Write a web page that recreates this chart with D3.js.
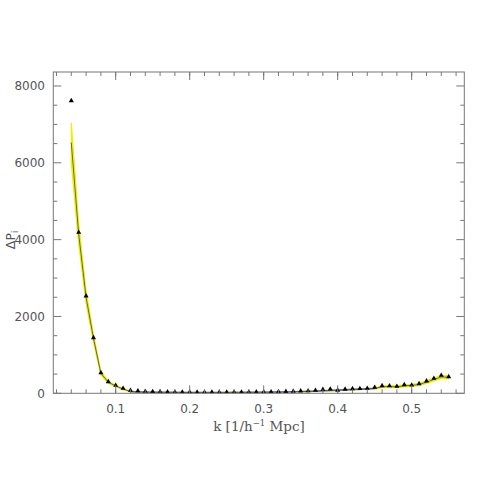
<!DOCTYPE html>
<html><head><meta charset="utf-8">
<script src="https://cdn.jsdelivr.net/npm/d3@7"></script>
<style>body{margin:0;background:#fff}svg{display:block}</style>
</head><body>
<svg id="c" width="491" height="491"></svg>
<script>
const kValues = [0.04,0.05,0.06,0.07,0.08,0.09,0.10,0.11,0.12,0.13,0.14,0.15,0.16,0.17,0.18,0.19,0.20,0.21,0.22,0.23,0.24,0.25,0.26,0.27,0.28,0.29,0.30,0.31,0.32,0.33,0.34,0.35,0.36,0.37,0.38,0.39,0.40,0.41,0.42,0.43,0.44,0.45,0.46,0.47,0.48,0.49,0.50,0.51,0.52,0.53,0.54,0.55];
const measured = [7617,4190,2533,1448,537,302,208,130,75,62,50,45,40,35,32,30,30,28,28,27,28,28,30,30,32,33,35,38,42,48,55,60,62,75,100,110,80,105,118,122,130,155,198,195,180,222,215,250,320,390,468,430];
const model = [6525,4150,2500,1430,520,290,190,110,45,35,30,27,25,24,23,22,22,22,22,22,22,22,23,24,25,26,28,30,32,35,40,45,50,58,66,74,82,90,100,108,115,125,170,175,170,195,205,230,290,360,425,420];
const bandHalf = [520,260,160,100,50,30,20,15,10,8,6,6,5,5,5,5,5,5,5,5,5,5,5,5,5,5,5,5,5,5,5,6,6,7,8,9,10,11,12,13,14,15,25,25,25,28,28,30,32,35,38,36];
const kBlue = [0.12,0.15,0.20,0.25,0.30,0.35,0.40,0.45];
const blueLine = [40,27,22,22,28,45,82,125];
const xTickMajor = [0.1,0.2,0.3,0.4,0.5];
const yTickMajor = [0,2000,4000,6000,8000];

const svg = d3.select("#c");
const L=53.3,R=464.3,T=72,B=393.3;
const x = d3.scaleLinear().domain([0.0157,0.5711]).range([L,R]);
const y = d3.scaleLinear().domain([0,8364]).range([B,T]);
const col="#777";

svg.append("clipPath").attr("id","cl").append("rect").attr("x",L).attr("y",T).attr("width",R-L).attr("height",B-T);
const g = svg.append("g").attr("clip-path","url(#cl)");

const area = d3.area().x((d,i)=>x(kValues[i])).y0((d,i)=>y(Math.max(0,model[i]-bandHalf[i]))).y1((d,i)=>y(model[i]+bandHalf[i]));
g.append("path").datum(model).attr("d",area).attr("fill","#ffff00").attr("stroke","#eeee00").attr("stroke-width",1.2);
g.append("path").datum(blueLine).attr("d",d3.line().x((d,i)=>x(kBlue[i])).y(d=>y(d)).curve(d3.curveMonotoneX))
 .attr("fill","none").attr("stroke","#8080e0").attr("stroke-width",1.6);
g.append("path").datum(model).attr("d",d3.line().x((d,i)=>x(kValues[i])).y(d=>y(d)))
 .attr("fill","none").attr("stroke","#555").attr("stroke-width",0.9);

const tri = d3.symbol().type(d3.symbolTriangle).size(11);
g.selectAll(".m").data(measured).enter().append("path")
 .attr("d",tri).attr("transform",(d,i)=>`translate(${x(kValues[i])},${y(d)})`).attr("fill","#000");

svg.append("rect").attr("x",L).attr("y",T).attr("width",R-L).attr("height",B-T).attr("fill","none").attr("stroke",col).attr("stroke-width",1);
const ax = svg.append("g").attr("stroke",col).attr("stroke-width",1);
const xMinor = d3.range(1,29).map(i=>i*0.02).filter(v=>v>0.0157&&v<0.571);
xMinor.forEach(v=>{
  ax.append("line").attr("x1",x(v)).attr("x2",x(v)).attr("y1",B).attr("y2",B-4);
  ax.append("line").attr("x1",x(v)).attr("x2",x(v)).attr("y1",T).attr("y2",T+4);
});
xTickMajor.forEach(v=>{
  ax.append("line").attr("x1",x(v)).attr("x2",x(v)).attr("y1",B).attr("y2",B-8);
  ax.append("line").attr("x1",x(v)).attr("x2",x(v)).attr("y1",T).attr("y2",T+8);
});
d3.range(0,8364,500).forEach(v=>{
  const len = v%2000===0?8:4;
  ax.append("line").attr("x1",L).attr("x2",L+len).attr("y1",y(v)).attr("y2",y(v));
  ax.append("line").attr("x1",R).attr("x2",R-len).attr("y1",y(v)).attr("y2",y(v));
});

const font = "'DejaVu Sans', sans-serif";
svg.selectAll(".xt").data(xTickMajor).enter().append("text")
 .attr("x",d=>x(d)).attr("y",413).attr("text-anchor","middle")
 .attr("font-family",font).attr("font-size",12).attr("fill","#555").text(d=>d.toFixed(1));
svg.selectAll(".yt").data(yTickMajor).enter().append("text")
 .attr("x",45).attr("y",d=>y(d)+4.5).attr("text-anchor","end")
 .attr("font-family",font).attr("font-size",12).attr("fill","#555").text(d=>d);

const xl = svg.append("text").attr("x",259).attr("y",431).attr("text-anchor","middle")
 .attr("font-family","'DejaVu Serif', serif").attr("font-size",13.5).attr("fill","#555");
xl.append("tspan").text("k [1/h");
xl.append("tspan").attr("font-size",8.5).attr("dy",-5).text("−1");
xl.append("tspan").attr("dy",5).text(" Mpc]");

const yl = svg.append("text").attr("transform","translate(15,240) rotate(-90)").attr("text-anchor","middle")
 .attr("font-family",font).attr("font-size",12.5).attr("fill","#555");
yl.append("tspan").text("ΔP");
yl.append("tspan").attr("font-size",8).attr("dy",3).text("i");
</script>
</body></html>
